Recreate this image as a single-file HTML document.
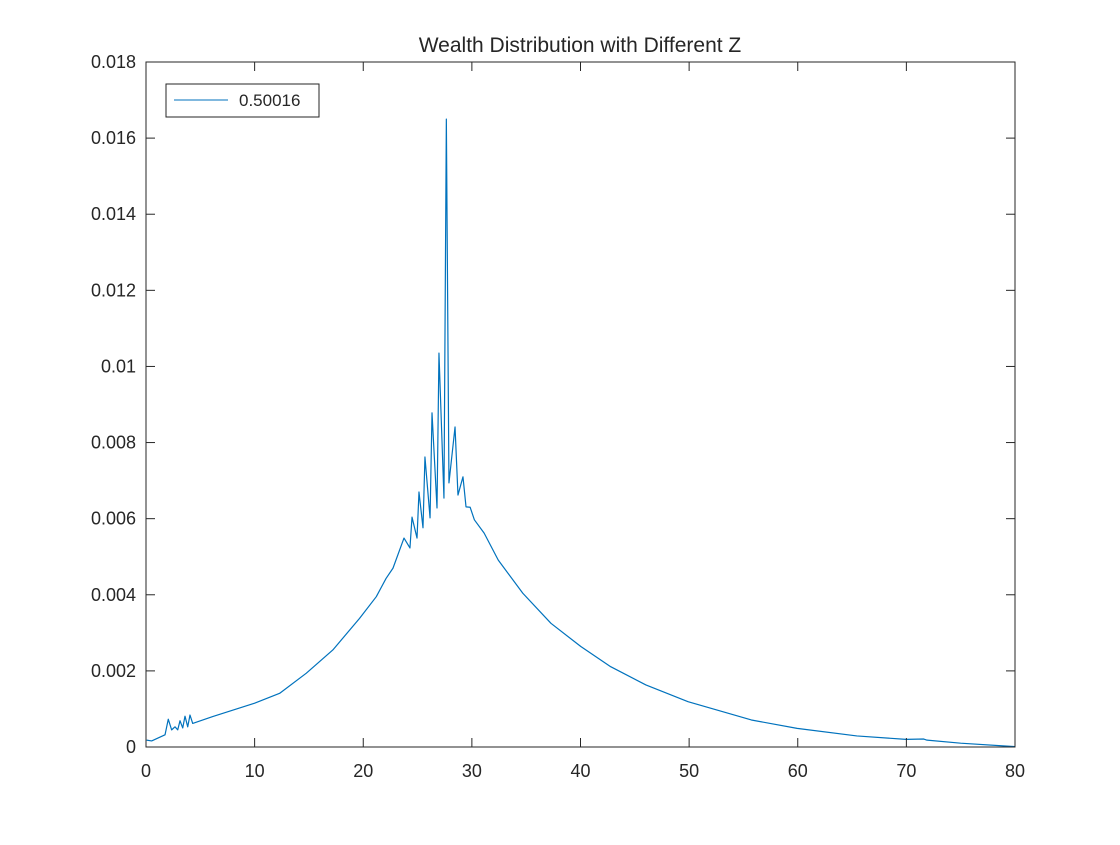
<!DOCTYPE html>
<html><head><meta charset="utf-8"><style>
body{margin:0;background:#fff}
svg text{font-family:"Liberation Sans",sans-serif;fill:#262626}
</style></head><body>
<svg width="1120" height="840" id="c">
<rect x="0" y="0" width="1120" height="840" fill="#fff"/>
<text x="580" y="52" font-size="21" text-anchor="middle">Wealth Distribution with Different Z</text>
<g id="plot"></g>
<rect x="146" y="62" width="869" height="685" fill="none" stroke="#262626" stroke-width="1"/>
<g id="axes"></g>
<g>
<rect x="166" y="84" width="153" height="33" fill="#fff" stroke="#262626" stroke-width="1"/>
<line x1="174" y1="100" x2="228" y2="100" stroke="#0072bd" stroke-width="1"/>
<text x="239" y="106" font-size="17">0.50016</text>
</g>
</svg>
<script>
const xTicks=[0,10,20,30,40,50,60,70,80];
const yTicks=[0,0.002,0.004,0.006,0.008,0.01,0.012,0.014,0.016,0.018];
const yTickLabels=["0","0.002","0.004","0.006","0.008","0.01","0.012","0.014","0.016","0.018"];
const xs=[0.06,0.52,1.75,2.05,2.36,2.67,2.92,3.13,3.38,3.59,3.84,4.05,4.3,6.14,10,12.3,14.76,17.2,19.66,21.2,22.1,22.74,23.75,24.3,24.49,24.95,25.13,25.5,25.68,26.15,26.33,26.79,26.97,27.43,27.65,27.89,28.45,28.72,29.18,29.46,29.84,30.23,31.13,32.43,34.69,37.28,40.03,42.78,46.02,49.9,55.73,59.94,65.44,69.97,71.6,71.9,75,80];
const ys=[0.00018,0.00016,0.00032,0.00073,0.00045,0.00053,0.00045,0.00069,0.0005,0.00081,0.00053,0.00084,0.00062,0.0008,0.00115,0.00141,0.00194,0.00255,0.00338,0.00395,0.00443,0.0047,0.00549,0.00523,0.00604,0.00549,0.0067,0.00576,0.00762,0.00602,0.00878,0.00628,0.01035,0.00654,0.0165,0.00694,0.00841,0.00662,0.0071,0.00631,0.0063,0.00597,0.00562,0.00491,0.00404,0.00325,0.00264,0.00211,0.00163,0.00119,0.00071,0.00049,0.00029,0.0002,0.00021,0.00018,0.0001,0.00001];
const X=v=>146+v/80*869, Y=v=>747-v/0.018*685;
const ns="http://www.w3.org/2000/svg";
const ax=document.getElementById('axes'), pl=document.getElementById('plot');
function mk(t,a,p){const e=document.createElementNS(ns,t);for(const k in a)e.setAttribute(k,a[k]);p.appendChild(e);return e;}
xTicks.forEach(v=>{
 const l=mk('line',{x1:X(v),x2:X(v),y1:747,y2:738,stroke:'#262626'},ax);
 
 
 const l2=mk('line',{x1:X(v),x2:X(v),y1:62,y2:71,stroke:'#262626'},ax);
 
 
 const t=mk('text',{x:X(v),y:777,'font-size':18,'text-anchor':'middle'},ax);
 t.textContent=v;
 
 
});
yTicks.forEach((v,i)=>{
 const l=mk('line',{x1:146,x2:155,y1:Y(v),y2:Y(v),stroke:'#262626'},ax);
 
 
 const l2=mk('line',{x1:1006,x2:1015,y1:Y(v),y2:Y(v),stroke:'#262626'},ax);
 
 
 const t=mk('text',{x:136,y:Y(v)+6,'font-size':18,'text-anchor':'end'},ax);
 t.textContent=yTickLabels[i];
 
 
});
const p=mk('polyline',{points:xs.map((x,i)=>X(x)+','+Y(ys[i])).join(' '),fill:'none',stroke:'#0072bd','stroke-width':1.2,'stroke-linejoin':'round'},pl);


</script>
</body></html>
